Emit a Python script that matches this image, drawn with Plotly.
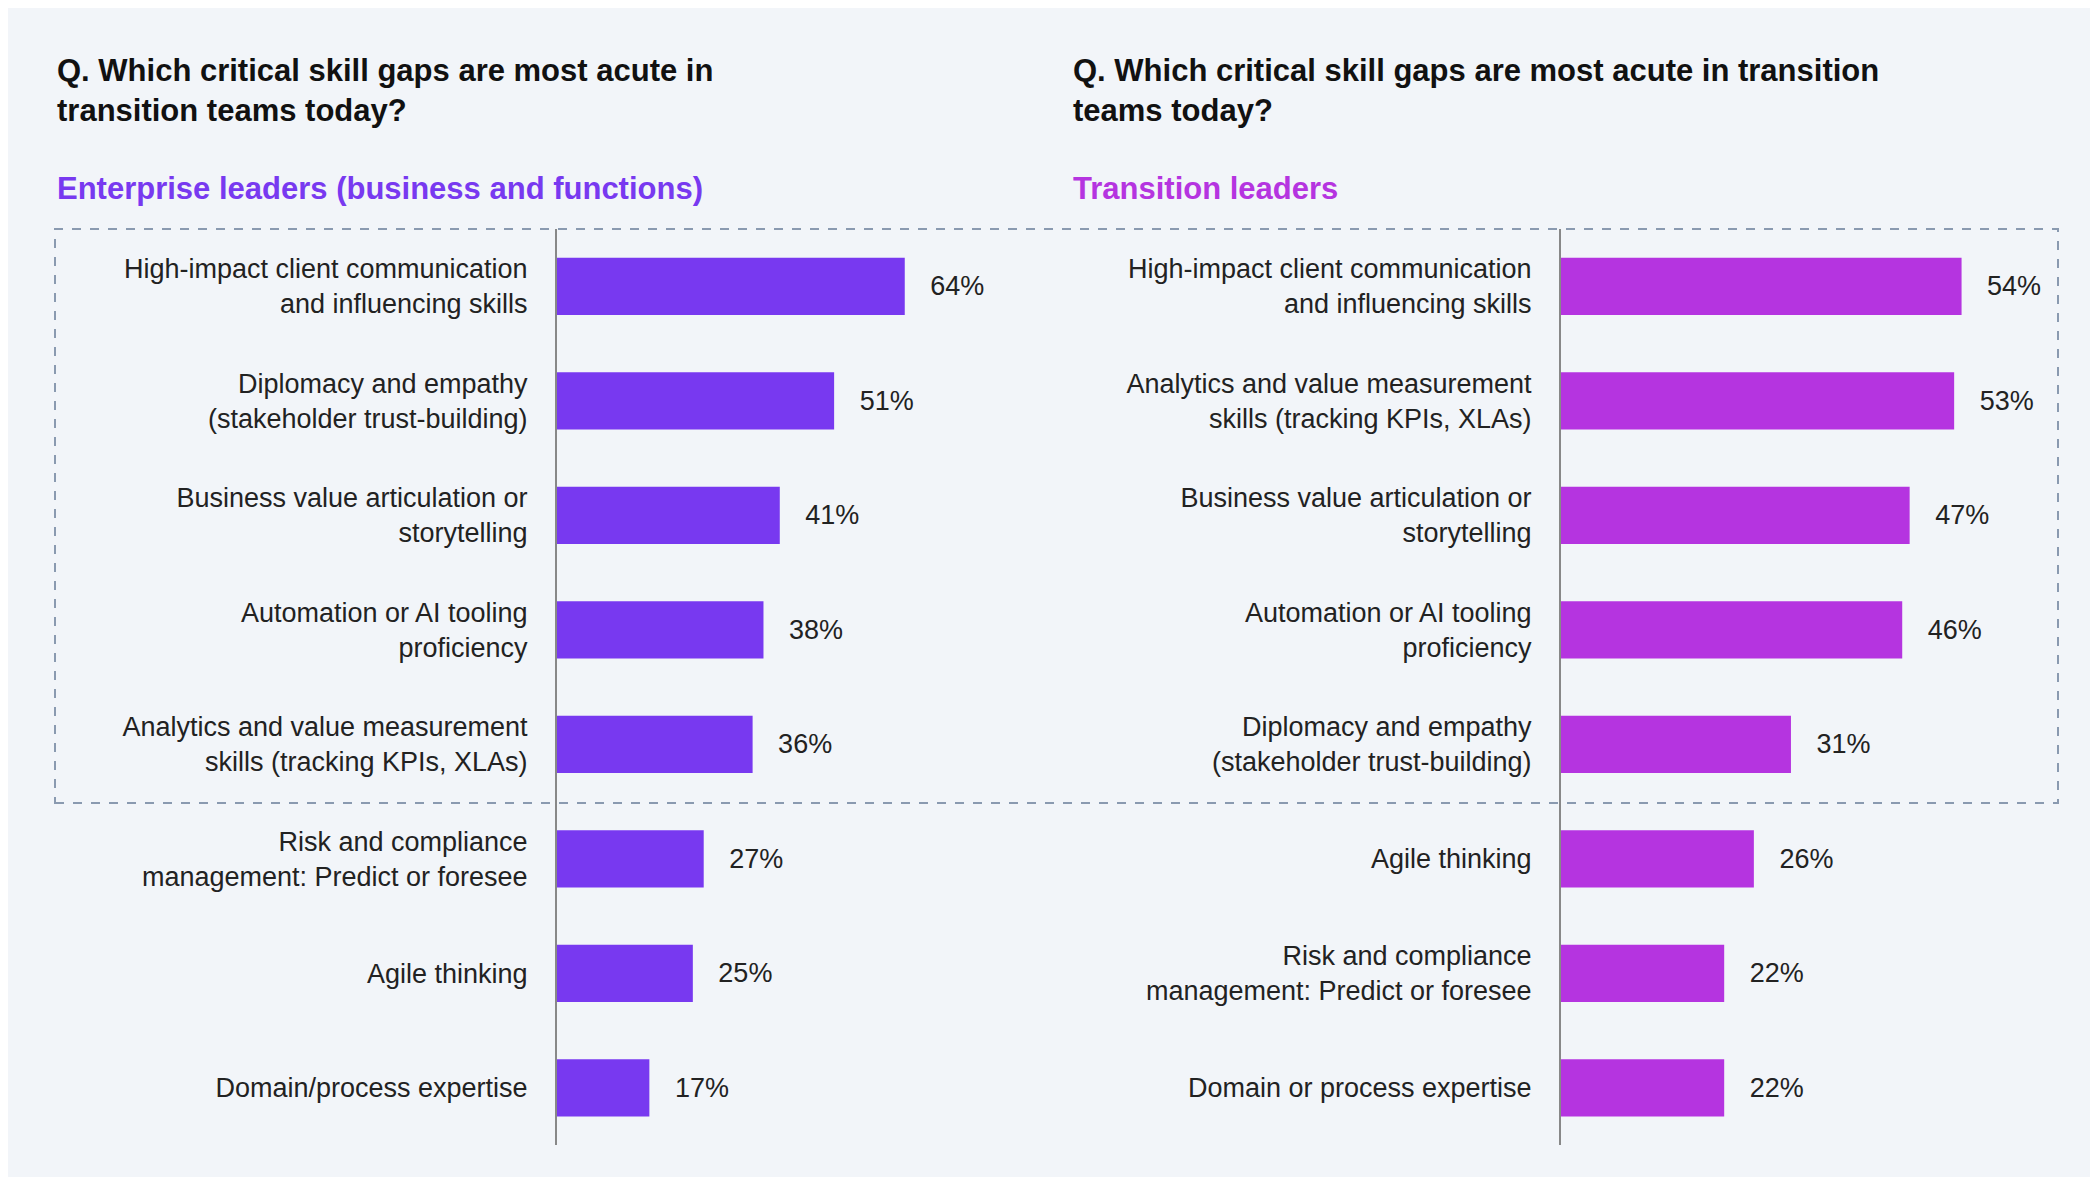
import plotly.graph_objects as go

left_labels = ["High-impact client communication<br>and influencing skills",
               "Diplomacy and empathy<br>(stakeholder trust-building)",
               "Business value articulation or<br>storytelling",
               "Automation or AI tooling<br>proficiency",
               "Analytics and value measurement<br>skills (tracking KPIs, XLAs)",
               "Risk and compliance<br>management: Predict or foresee",
               "Agile thinking",
               "Domain/process expertise"]
left_values = [64, 51, 41, 38, 36, 27, 25, 17]
right_labels = ["High-impact client communication<br>and influencing skills",
                "Analytics and value measurement<br>skills (tracking KPIs, XLAs)",
                "Business value articulation or<br>storytelling",
                "Automation or AI tooling<br>proficiency",
                "Diplomacy and empathy<br>(stakeholder trust-building)",
                "Agile thinking",
                "Risk and compliance<br>management: Predict or foresee",
                "Domain or process expertise"]
right_values = [54, 53, 47, 46, 31, 26, 22, 22]

LC = "#7839F0"
RC = "#B534E0"
FONT = "Liberation Sans, Arial, sans-serif"
W, H = 2098, 1177

fig = go.Figure()
fig.add_bar(y=left_labels, x=left_values, orientation="h", marker_color=LC, width=0.5,
            text=[f"{v}%" for v in left_values], texttemplate="   %{text}",
            textposition="outside", cliponaxis=False, xaxis="x", yaxis="y",
            textfont=dict(size=27, color="#222"), marker_line_width=0)
fig.add_bar(y=right_labels, x=right_values, orientation="h", marker_color=RC, width=0.5,
            text=[f"{v}%" for v in right_values], texttemplate="   %{text}",
            textposition="outside", cliponaxis=False, xaxis="x2", yaxis="y2",
            textfont=dict(size=27, color="#222"), marker_line_width=0)

ydom = [1 - 1137 / H, 1 - 221 / H]
yax = dict(autorange=False, range=[7.5, -0.5], showline=True, linecolor="#888", linewidth=2,
           ticks="", ticklabelstandoff=22, tickfont=dict(size=27, color="#222"),
           showgrid=False, domain=ydom, type="category")
fig.update_layout(
    width=W, height=H, paper_bgcolor="#F2F5F9", plot_bgcolor="#F2F5F9",
    font=dict(family=FONT), showlegend=False, bargap=0.5,
    margin=dict(l=0, r=0, t=0, b=0),
    xaxis=dict(domain=[549 / W, 1000 / W], range=[0, 83], visible=False),
    xaxis2=dict(domain=[1553 / W, 2050 / W], range=[0, 67], visible=False),
    yaxis=dict(**yax, anchor="x"),
    yaxis2=dict(**yax, anchor="x2"),
)

def ann(x, y, text, size, color, bold=True):
    fig.add_annotation(x=x / W, y=1 - y / H, xref="paper", yref="paper", text=text,
                       showarrow=False, xanchor="left", yanchor="middle", align="left",
                       font=dict(size=size, color=color, family=FONT))

ann(47, 82, "<b>Q. Which critical skill gaps are most acute in<br>transition teams today?</b>", 31, "#111")
ann(1063, 82, "<b>Q. Which critical skill gaps are most acute in transition<br>teams today?</b>", 31, "#111")
ann(47, 181, "<b>Enterprise leaders (business and functions)</b>", 31, LC)
ann(1063, 181, "<b>Transition leaders</b>", 31, RC)

fig.add_shape(type="rect", xref="paper", yref="paper", x0=47 / W, x1=2050 / W,
              y0=1 - 795 / H, y1=1 - 221 / H, line=dict(color="#8A9AB0", width=2, dash="dash"),
              fillcolor="rgba(0,0,0,0)", layer="below")

fig.write_html("out.html")
